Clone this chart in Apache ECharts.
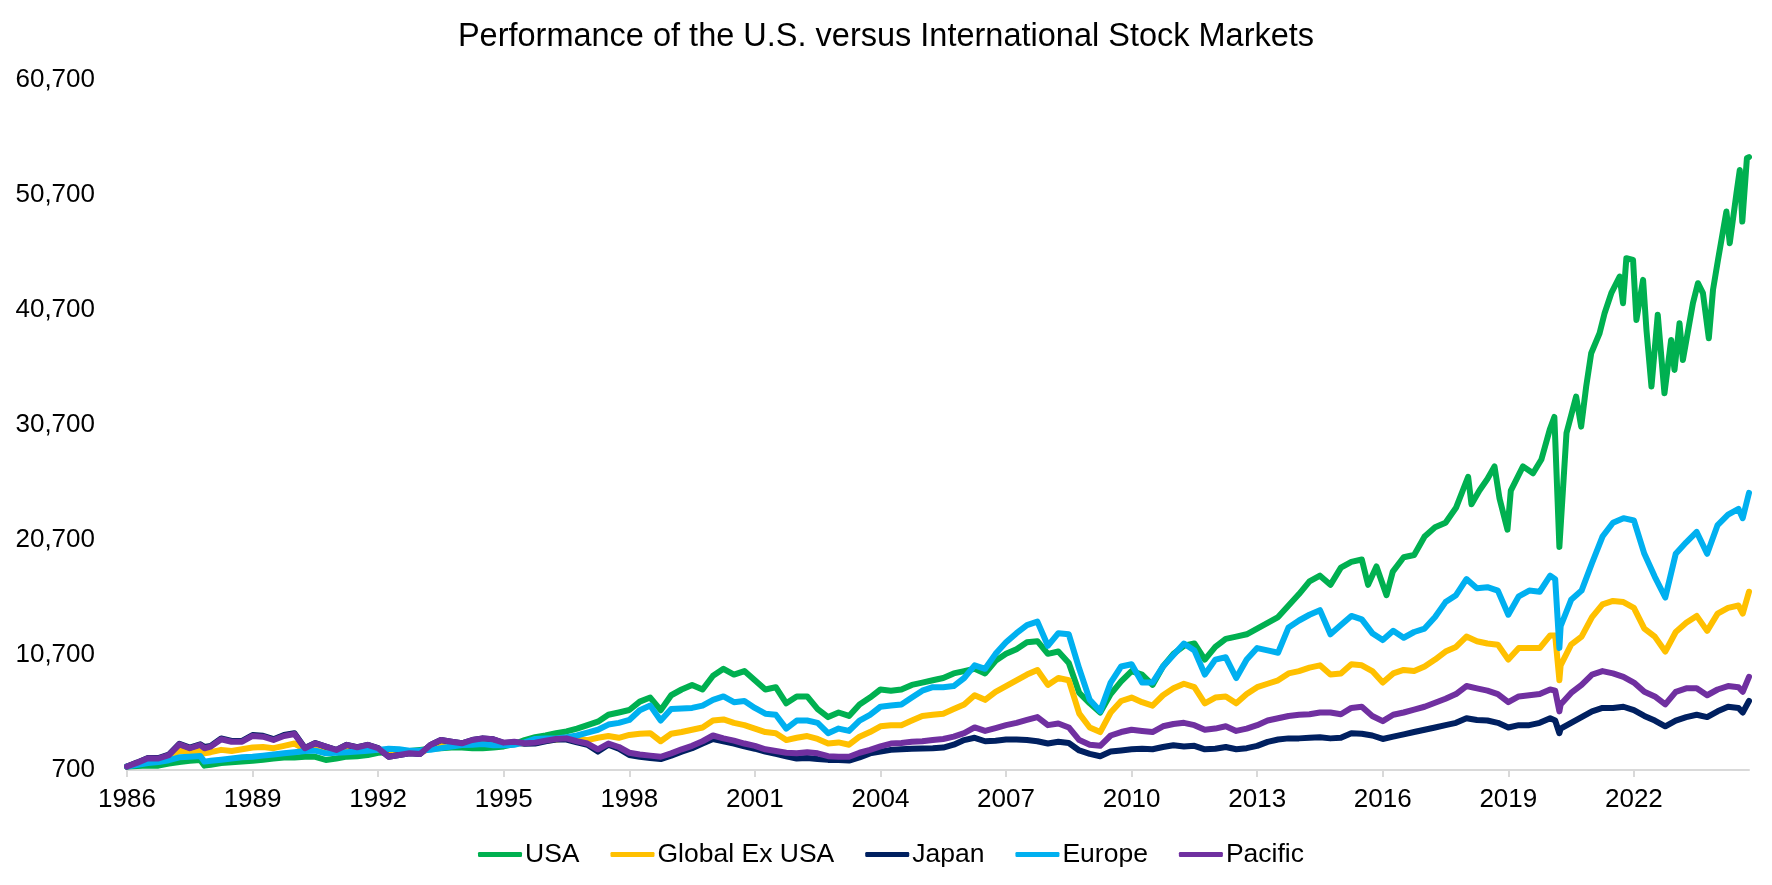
<!DOCTYPE html>
<html>
<head>
<meta charset="utf-8">
<script src="https://cdn.jsdelivr.net/npm/echarts@6/dist/echarts.min.js"></script>
<style>
html,body{margin:0;padding:0;background:#fff;}
#chart{width:1772px;height:885px;}
</style>
</head>
<body>
<div id="chart"></div>
<script>
// x positions in decimal years (quarterly, plus a few crash points) for the international series
const dates = [
1986.00,1986.25,1986.50,1986.75,
1987.00,1987.25,1987.50,1987.75,1987.85,
1988.00,1988.25,1988.50,1988.75,
1989.00,1989.25,1989.50,1989.75,
1990.00,1990.25,1990.50,1990.75,
1991.00,1991.25,1991.50,1991.75,
1992.00,1992.25,1992.50,1992.75,
1993.00,1993.25,1993.50,1993.75,
1994.00,1994.25,1994.50,1994.75,
1995.00,1995.25,1995.50,1995.75,
1996.00,1996.25,1996.50,1996.75,
1997.00,1997.25,1997.50,1997.75,
1998.00,1998.25,1998.50,1998.75,
1999.00,1999.25,1999.50,1999.75,
2000.00,2000.25,2000.50,2000.75,
2001.00,2001.25,2001.50,2001.75,
2002.00,2002.25,2002.50,2002.75,
2003.00,2003.25,2003.50,2003.75,
2004.00,2004.25,2004.50,2004.75,
2005.00,2005.25,2005.50,2005.75,
2006.00,2006.25,2006.50,2006.75,
2007.00,2007.25,2007.50,2007.75,
2008.00,2008.25,2008.50,2008.75,
2009.00,2009.25,2009.50,2009.75,
2010.00,2010.25,2010.50,2010.75,
2011.00,2011.25,2011.50,2011.75,
2012.00,2012.25,2012.50,2012.75,
2013.00,2013.25,2013.50,2013.75,
2014.00,2014.25,2014.50,2014.75,
2015.00,2015.25,2015.50,2015.75,
2016.00,2016.25,2016.50,2016.75,
2017.00,2017.25,2017.50,2017.75,
2018.00,2018.25,2018.50,2018.75,
2019.00,2019.25,2019.50,2019.75,
2020.00,2020.12,2020.22,2020.25,2020.50,2020.75,
2021.00,2021.25,2021.50,2021.75,
2022.00,2022.25,2022.50,2022.75,
2023.00,2023.25,2023.50,2023.75,
2024.00,2024.25,2024.50,2024.60,2024.75
];

// USA has its own, denser x positions in the volatile later years
const usaDates = [
1986.00,1986.25,1986.50,1986.75,
1987.00,1987.25,1987.50,1987.75,1987.85,
1988.00,1988.25,1988.50,1988.75,
1989.00,1989.25,1989.50,1989.75,
1990.00,1990.25,1990.50,1990.75,
1991.00,1991.25,1991.50,1991.75,
1992.00,1992.25,1992.50,1992.75,
1993.00,1993.25,1993.50,1993.75,
1994.00,1994.25,1994.50,1994.75,
1995.00,1995.25,1995.50,1995.75,
1996.00,1996.25,1996.50,1996.75,
1997.00,1997.25,1997.50,1997.75,
1998.00,1998.25,1998.50,1998.75,
1999.00,1999.25,1999.50,1999.75,
2000.00,2000.25,2000.50,2000.75,
2001.00,2001.25,2001.50,2001.75,
2002.00,2002.25,2002.50,2002.75,
2003.00,2003.25,2003.50,2003.75,
2004.00,2004.25,2004.50,2004.75,
2005.00,2005.25,2005.50,2005.75,
2006.00,2006.25,2006.50,2006.75,
2007.00,2007.25,2007.50,2007.75,
2008.00,2008.25,2008.50,2008.75,
2009.00,2009.25,2009.50,2009.75,
2010.00,2010.25,2010.50,2010.75,
2011.00,2011.25,2011.50,2011.75,
2012.00,2012.25,2012.50,2012.75,
2013.00,2013.25,2013.50,2013.75,
2014.00,2014.25,2014.50,2014.75,
2015.00,2015.25,2015.50,2015.65,2015.85,
2016.09,2016.24,2016.50,2016.75,
2017.00,2017.25,2017.50,2017.75,
2018.04,2018.12,2018.31,2018.50,2018.67,2018.79,2018.98,
2019.06,2019.35,2019.59,2019.79,2019.99,
2020.10,2020.22,2020.39,2020.62,2020.74,2020.86,2020.98,
2021.18,2021.30,2021.46,2021.66,2021.74,2021.82,2021.98,
2022.06,2022.22,2022.30,2022.42,2022.57,2022.73,2022.89,2022.97,
2023.09,2023.17,2023.41,2023.53,2023.65,2023.79,2023.89,
2024.01,2024.21,2024.29,2024.45,2024.53,2024.59,2024.70,2024.75
];

const usa = [
1000,1050,1100,1080,
1250,1400,1500,1570,1080,
1150,1300,1380,1430,
1500,1600,1700,1780,
1780,1850,1850,1570,
1700,1860,1900,2000,
2200,2250,2300,2350,
2450,2550,2600,2650,
2650,2600,2600,2650,
2750,2950,3300,3550,
3700,3900,4050,4300,
4600,4900,5500,5700,
5920,6650,7000,5900,
7200,7700,8100,7700,
8900,9500,9000,9300,
8500,7700,7900,6500,
7100,7100,6000,5300,
5700,5400,6400,7000,
7700,7600,7700,8100,
8300,8500,8700,9100,
9300,9500,9100,10200,
10800,11200,11800,11900,
10800,11000,10000,7400,
6500,5700,7300,8400,
9300,9000,8100,9700,
10800,11500,11700,10300,
11400,12100,12300,12500,
13000,13500,14000,15000,
16000,17100,17600,16800,
18300,18800,19000,16800,18400,
15900,17950,19200,19400,
21000,21800,22200,23500,
26200,23800,25000,26000,27100,24300,21600,
25000,27100,26500,27700,30300,
31400,20100,30000,33170,30560,34040,36940,
38680,40420,42160,43610,41290,45200,45060,
39840,43320,38970,34040,40280,33460,38100,35490,
39550,36350,41290,43030,42160,38240,42450,
45060,49260,46510,50850,52880,48390,53900,54000
];

const globalExUsa = [
1000,1250,1500,1550,
1800,2380,2300,2350,2150,
2250,2450,2350,2500,
2650,2700,2600,2800,
3000,2500,2600,2300,
2350,2500,2450,2500,
2450,2250,2250,2200,
2200,2600,2950,2950,
3000,3050,3150,3050,
2950,3000,3050,3150,
3250,3350,3450,3350,
3300,3500,3650,3500,
3750,3850,3900,3200,
3850,4000,4200,4400,
5000,5100,4800,4600,
4300,4000,3900,3300,
3500,3650,3400,3000,
3100,2900,3600,4000,
4500,4600,4600,5000,
5400,5500,5600,6000,
6400,7200,6800,7500,
8000,8500,9000,9400,
8100,8700,8500,5600,
4400,4000,5700,6700,
7000,6600,6300,7200,
7800,8200,7900,6500,
7000,7100,6500,7300,
7900,8200,8500,9100,
9300,9600,9800,9000,
9100,9900,9800,9300,
8300,9100,9400,9300,
9700,10300,11000,11400,
12300,11900,11700,11600,
10300,11300,11300,11300,
12400,12400,8500,9800,11600,12300,
14000,15100,15400,15300,
14800,13000,12300,11000,
12700,13500,14100,12800,
14300,14800,15000,14300,16200
];

const japan = [
1000,1360,1750,1740,
2050,2980,2650,2940,2700,
2800,3440,3230,3230,
3740,3680,3380,3740,
3900,2620,3050,2740,
2450,2890,2680,2890,
2600,1860,2000,2150,
2090,2880,3310,3160,
3020,3310,3450,3370,
3050,3100,2980,3000,
3200,3350,3350,3100,
2900,2300,2900,2550,
2000,1850,1750,1650,
1950,2300,2600,3000,
3400,3200,3000,2750,
2550,2300,2100,1900,
1700,1750,1650,1580,
1570,1520,1800,2150,
2300,2450,2500,2550,
2580,2600,2650,2900,
3300,3500,3200,3250,
3350,3350,3300,3200,
3000,3150,3050,2400,
2100,1900,2300,2400,
2500,2550,2500,2700,
2850,2750,2800,2500,
2550,2700,2500,2600,
2800,3150,3350,3450,
3450,3500,3550,3450,
3500,3900,3850,3700,
3400,3600,3800,4000,
4200,4400,4600,4800,
5200,5050,5000,4800,
4400,4600,4600,4800,
5200,5000,3900,4300,4800,5300,
5800,6100,6100,6200,
5900,5400,5000,4500,
5000,5300,5500,5300,
5800,6200,6100,5700,6700
];

const europe = [
1000,1150,1300,1400,
1550,1800,1850,1920,1430,
1500,1600,1700,1800,
1850,1950,2050,2150,
2250,2350,2380,2150,
2200,2250,2300,2380,
2450,2550,2500,2380,
2400,2450,2600,2750,
2880,2900,2950,2850,
2850,2900,3100,3400,
3450,3450,3550,3700,
3950,4200,4650,4800,
5050,5900,6300,5000,
6000,6050,6100,6300,
6800,7100,6600,6700,
6100,5600,5500,4300,
5000,5000,4800,3900,
4300,4100,5000,5500,
6200,6300,6400,7000,
7600,7900,7900,8000,
8700,9800,9500,10800,
11800,12600,13300,13600,
11500,12600,12500,9500,
6800,5800,8300,9700,
9900,8300,8300,9700,
10700,11700,11100,9000,
10300,10500,8700,10300,
11300,11100,10900,13100,
13700,14200,14600,12500,
13300,14100,13800,12600,
12000,12800,12200,12700,
13000,14000,15300,15900,
17300,16500,16600,16300,
14200,15800,16300,16200,
17600,17300,11300,13200,15500,16300,
18700,21000,22200,22600,
22400,19500,17500,15700,
19500,20500,21400,19500,
22000,22900,23400,22600,24800
];

const pacific = [
1000,1340,1720,1700,
2000,2930,2590,2880,2590,
2730,3370,3160,3160,
3660,3600,3310,3660,
3830,2590,3020,2730,
2440,2880,2670,2880,
2590,1860,2000,2150,
2090,2880,3310,3160,
3020,3310,3450,3370,
3080,3160,3020,3080,
3250,3400,3450,3200,
3000,2500,3000,2700,
2200,2050,1950,1850,
2150,2500,2800,3200,
3700,3450,3250,3000,
2800,2500,2350,2200,
2150,2250,2150,1900,
1850,1850,2200,2450,
2750,3000,3050,3150,
3200,3300,3400,3600,
3900,4400,4100,4350,
4600,4800,5050,5300,
4600,4750,4400,3300,
2900,2800,3700,4000,
4200,4100,4000,4500,
4700,4800,4600,4200,
4300,4500,4100,4300,
4600,5000,5200,5400,
5500,5550,5700,5700,
5550,6100,6200,5400,
4950,5500,5700,5950,
6200,6550,6900,7300,
8000,7800,7600,7300,
6600,7100,7200,7300,
7700,7600,5800,6400,7400,8100,
9000,9300,9100,8800,
8300,7500,7100,6400,
7500,7800,7800,7200,
7700,8000,7900,7500,8800
];

const seriesNames = ['USA','Global Ex USA','Japan','Europe','Pacific'];
const seriesColors = ['#00B050','#FFC000','#002060','#00B0F0','#7030A0'];
const xTicks = [1986,1989,1992,1995,1998,2001,2004,2007,2010,2013,2016,2019,2022];
const yTicks = [700,10700,20700,30700,40700,50700,60700];
const titleText = 'Performance of the U.S. versus International Stock Markets';

const seriesX = [usaDates, dates, dates, dates, dates];
const seriesY = [usa, globalExUsa, japan, europe, pacific];

const chart = echarts.init(document.getElementById('chart'));
const FONT = '"Liberation Sans", Arial, sans-serif';

chart.setOption({
  animation: false,
  backgroundColor: '#ffffff',
  textStyle: { fontFamily: FONT, color: '#000' },
  title: {
    text: titleText,
    left: 'center',
    top: 16,
    textStyle: { fontFamily: FONT, fontSize: 32.5, fontWeight: 'normal', color: '#000' }
  },
  legend: {
    data: seriesNames,
    left: 473,
    top: 836,
    icon: 'roundRect',
    itemWidth: 44,
    itemHeight: 5,
    itemGap: 31,
    textStyle: { fontFamily: FONT, fontSize: 26.5, color: '#000', padding: [0, 0, 0, -2] }
  },
  grid: { left: 127, right: 23, top: 80, bottom: 115 },
  xAxis: {
    type: 'value',
    min: 1986,
    max: 2024.75,
    splitLine: { show: false },
    axisLine: { show: true, lineStyle: { color: '#D9D9D9', width: 2 } },
    axisTick: { show: true, length: 7, customValues: xTicks, lineStyle: { color: '#D9D9D9', width: 2 } },
    axisLabel: {
      customValues: xTicks,
      fontFamily: FONT, fontSize: 26, color: '#000', margin: 17,
      formatter: v => String(Math.round(v))
    }
  },
  yAxis: {
    type: 'value',
    min: 700,
    max: 60700,
    splitLine: { show: false },
    axisLine: { show: false },
    axisTick: { show: false },
    axisLabel: {
      customValues: yTicks,
      fontFamily: FONT, fontSize: 26, color: '#000', margin: 32,
      formatter: v => Math.round(v).toLocaleString('en-US')
    }
  },
  series: seriesNames.map((name, k) => ({
    name: name,
    type: 'line',
    symbol: 'none',
    showSymbol: false,
    color: seriesColors[k],
    itemStyle: { color: seriesColors[k] },
    lineStyle: { width: 6, color: seriesColors[k], join: 'round', cap: 'round' },
    data: seriesX[k].map((d, i) => [d, seriesY[k][i]])
  }))
});
</script>
</body>
</html>
